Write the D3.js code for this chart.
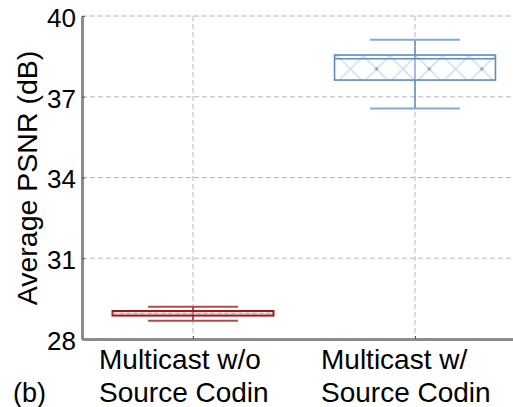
<!DOCTYPE html>
<html>
<head>
<meta charset="utf-8">
<script src="https://cdn.jsdelivr.net/npm/d3@7"></script>
<style>
  body { margin: 0; background: #fff; }
  text { font-family: "Liberation Sans", Arial, Helvetica, sans-serif; }
</style>
</head>
<body>
<script>
// data
const categories = ['Multicast w/o Source Codin', 'Multicast w/ Source Codin']
const labelLine1 = ['Multicast w/o', 'Multicast w/']
const labelLine2 = ['Source Codin', 'Source Codin']
const whiskerLow = [28.68, 36.56]
const q1 = [28.87, 37.62]
const median = [28.95, 38.41]
const q3 = [29.04, 38.55]
const whiskerHigh = [29.20, 39.12]
const yTicks = [28, 31, 34, 37, 40]
const boxColors = ['#9e1a1a', '#5b8cc2']
const whiskerColors = ['#b04a4a', '#85a9d2']

const width = 513
, height = 407
, plotLeft = 82
, plotTop = 16
, plotBottom = 339

const svg = d3.select('body').append('svg')
    .attr('width', width)
    .attr('height', height)

// scales (x range runs past the right edge, as in the original crop)
const xScale = d3.scalePoint()
    .domain(categories)
    .range([plotLeft, 526])
    .padding(0.5)

const yScale = d3.scaleLinear()
    .domain([28, 40])
    .range([plotBottom, plotTop])

const step = xScale.step()
const boxW = step * 0.725
const capW = step * 0.405

// hatch pattern for the blue box
const defs = svg.append('defs')
const pat = defs.append('pattern')
    .attr('id', 'hatch')
    .attr('patternUnits', 'userSpaceOnUse')
    .attr('width', 52.6)
    .attr('height', 26.3)
    .attr('x', 363.5)
    .attr('y', 55.8)
pat.append('rect').attr('width', 52.6).attr('height', 26.3).attr('fill', '#ffffff')
const hatchLines = [[0, 0, 26.3, 26.3], [0, 26.3, 26.3, 0], [26.3, 0, 52.6, 26.3], [26.3, 26.3, 52.6, 0]]
pat.selectAll('line').data(hatchLines).enter().append('line')
    .attr('x1', d => d[0]).attr('y1', d => d[1])
    .attr('x2', d => d[2]).attr('y2', d => d[3])
    .attr('stroke', '#c9dbee')
    .attr('stroke-width', 1.6)
pat.append('circle').attr('cx', 13.15).attr('cy', 13.15).attr('r', 1.6).attr('fill', '#6f9bcb')

// grid lines
svg.append('g').selectAll('line').data(yTicks.filter(t => t > 28)).enter().append('line')
    .attr('x1', plotLeft).attr('x2', width)
    .attr('y1', d => yScale(d)).attr('y2', d => yScale(d))
    .attr('stroke', '#b8b8b8')
    .attr('stroke-width', 1)
    .attr('stroke-dasharray', '5,3')

svg.append('g').selectAll('line').data(categories).enter().append('line')
    .attr('x1', d => xScale(d)).attr('x2', d => xScale(d))
    .attr('y1', plotTop).attr('y2', plotBottom)
    .attr('stroke', '#b8b8b8')
    .attr('stroke-width', 1)
    .attr('stroke-dasharray', '5,3')

// box plots
const boxes = svg.append('g').selectAll('g').data(categories).enter().append('g')

// vertical whisker
boxes.append('line')
    .attr('x1', d => xScale(d)).attr('x2', d => xScale(d))
    .attr('y1', (d, i) => yScale(whiskerHigh[i]))
    .attr('y2', (d, i) => yScale(whiskerLow[i]))
    .attr('stroke', (d, i) => boxColors[i])
    .attr('stroke-width', 1.5)

// caps
boxes.selectAll('.cap').data((d, i) => [{c: d, v: whiskerHigh[i], i: i}, {c: d, v: whiskerLow[i], i: i}])
    .enter().append('line')
    .attr('class', 'cap')
    .attr('x1', d => xScale(d.c) - capW / 2).attr('x2', d => xScale(d.c) + capW / 2)
    .attr('y1', d => yScale(d.v)).attr('y2', d => yScale(d.v))
    .attr('stroke', d => whiskerColors[d.i])
    .attr('stroke-width', 2)

// box
boxes.append('rect')
    .attr('x', d => xScale(d) - boxW / 2)
    .attr('width', boxW)
    .attr('y', (d, i) => yScale(q3[i]))
    .attr('height', (d, i) => yScale(q1[i]) - yScale(q3[i]))
    .attr('fill', (d, i) => i === 1 ? 'url(#hatch)' : '#f3dede')
    .attr('fill-opacity', 0.9)
    .attr('stroke', (d, i) => boxColors[i])
    .attr('stroke-width', (d, i) => i === 0 ? 2 : 1.6)

// vertical whisker shows through the box
boxes.append('line')
    .attr('x1', d => xScale(d)).attr('x2', d => xScale(d))
    .attr('y1', (d, i) => yScale(q3[i]))
    .attr('y2', (d, i) => yScale(q1[i]))
    .attr('stroke', (d, i) => boxColors[i])
    .attr('stroke-opacity', 0.7)
    .attr('stroke-width', 1.5)

// median
boxes.append('line')
    .attr('x1', d => xScale(d) - boxW / 2).attr('x2', d => xScale(d) + boxW / 2)
    .attr('y1', (d, i) => yScale(median[i])).attr('y2', (d, i) => yScale(median[i]))
    .attr('stroke', (d, i) => i === 0 ? '#d9a0a0' : boxColors[i])
    .attr('stroke-width', (d, i) => i === 0 ? 1 : 1.5)
    .attr('stroke-dasharray', (d, i) => i === 0 ? '4,3' : null)

// y axis
const yAxis = svg.append('g')
    .attr('transform', 'translate(' + plotLeft + ',0)')
    .call(d3.axisLeft(yScale).tickValues(yTicks).tickSizeInner(-3).tickSizeOuter(0).tickPadding(6))
yAxis.select('.domain').attr('stroke', '#8c8c8c').attr('stroke-width', 3)
yAxis.selectAll('.tick line').attr('stroke', '#555').attr('stroke-width', 1)
yAxis.selectAll('.tick text')
    .attr('fill', '#000')
    .style('font-size', '26px')
    .attr('dy', '0.4em')
    .style('font-family', '"Liberation Sans", Arial, Helvetica, sans-serif')

// x axis
const xAxis = svg.append('g')
    .attr('transform', 'translate(0,' + plotBottom + ')')
    .call(d3.axisBottom(xScale).tickSizeInner(-3).tickSizeOuter(0).tickFormat(''))
xAxis.select('.domain').attr('stroke', '#8c8c8c').attr('stroke-width', 3)
xAxis.selectAll('.tick line').attr('stroke', '#555').attr('stroke-width', 1)

// category labels, two lines, left aligned
const labels = svg.append('g').selectAll('text').data(categories).enter().append('text')
    .attr('x', d => xScale(d) - 94)
    .attr('text-anchor', 'start')
    .attr('fill', '#000')
    .style('font-size', '28px')
labels.append('tspan').attr('x', d => xScale(d) - 94).attr('y', 369).text((d, i) => labelLine1[i])
labels.append('tspan').attr('x', d => xScale(d) - 94).attr('y', 402).text((d, i) => labelLine2[i])

// y axis title
svg.append('text')
    .attr('text-anchor', 'middle')
    .attr('transform', 'translate(37,' + 178 + ')rotate(-90)')
    .attr('fill', '#000')
    .style('font-size', '28.5px')
    .text('Average PSNR (dB)')

// panel tag
svg.append('text')
    .attr('x', 13)
    .attr('y', 402)
    .attr('fill', '#000')
    .style('font-size', '27px')
    .text('(b)')
</script>
</body>
</html>
